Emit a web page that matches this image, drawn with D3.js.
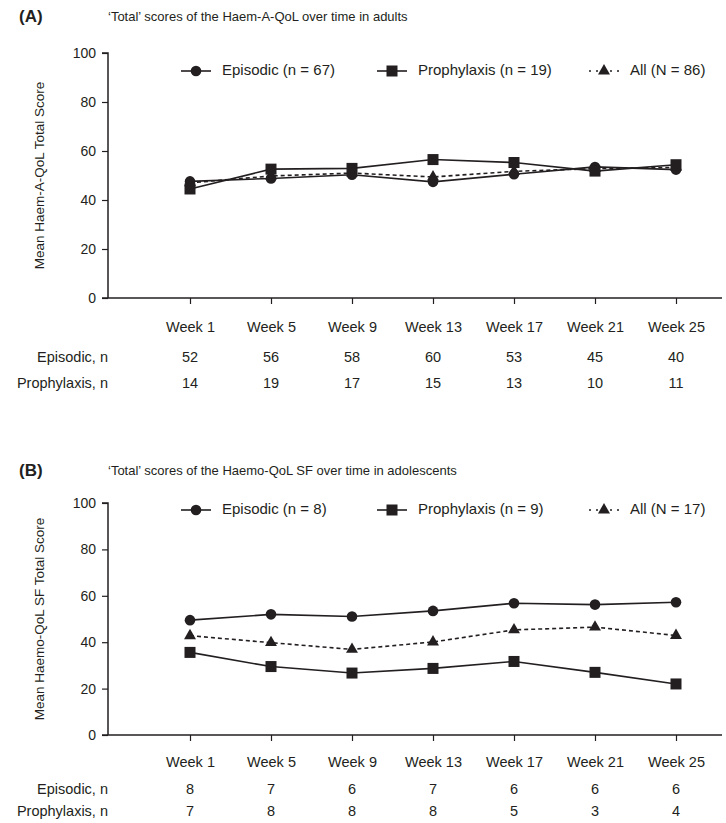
<!DOCTYPE html>
<html>
<head>
<meta charset="utf-8">
<script src="https://cdn.jsdelivr.net/npm/d3@7"></script>
<style>
  body { margin: 0; background: #fff; }
  svg { display: block; font-family: "Liberation Sans", Arial, sans-serif; }
</style>
</head>
<body>
<svg id="chart" width="726" height="823"></svg>
<script>
const weeks = ["Week 1", "Week 5", "Week 9", "Week 13", "Week 17", "Week 21", "Week 25"];
const yTicks = [0, 20, 40, 60, 80, 100];

// Panel A – adults
const adultEpisodic = [47.6, 48.8, 50.3, 47.4, 50.5, 53.5, 52.4];
const adultProphylaxis = [44.5, 52.6, 52.9, 56.5, 55.3, 51.8, 54.4];
const adultAll = [47.0, 49.8, 51.0, 49.4, 51.7, 52.8, 53.3];
const adultEpisodicN = [52, 56, 58, 60, 53, 45, 40];
const adultProphylaxisN = [14, 19, 17, 15, 13, 10, 11];

// Panel B – adolescents
const adolEpisodic = [49.5, 52.0, 51.1, 53.5, 56.8, 56.2, 57.2];
const adolProphylaxis = [35.6, 29.5, 26.7, 28.7, 31.7, 27.0, 22.0];
const adolAll = [42.8, 39.8, 36.9, 40.1, 45.3, 46.5, 42.9];
const adolEpisodicN = [8, 7, 6, 7, 6, 6, 6];
const adolProphylaxisN = [7, 8, 8, 8, 5, 3, 4];

const ink = "#231f20";
const FS = 14.5;
const svg = d3.select("#chart");

function marker(g, type, x, y) {
  if (type === "circle") {
    g.append("circle").attr("cx", x).attr("cy", y).attr("r", 5.3).attr("fill", ink);
  } else if (type === "square") {
    g.append("rect").attr("x", x - 5.5).attr("y", y - 5.5).attr("width", 11).attr("height", 11).attr("fill", ink);
  } else {
    g.append("path").attr("d", d3.symbol().type(d3.symbolTriangle).size(62)()).attr("transform", `translate(${x},${y})`).attr("fill", ink);
  }
}

function drawPanel(cfg) {
  const g = svg.append("g");
  const x = d3.scalePoint().domain(weeks).range([190, 676]);
  const y = d3.scaleLinear().domain([0, 100]).range([cfg.y0, cfg.y100]);
  const axisX = 108;

  // Panel label and title
  g.append("text").attr("x", 19).attr("y", cfg.titleY).attr("font-weight", "bold").attr("font-size", 17).attr("fill", ink)
    .attr("dominant-baseline", "middle").text(cfg.label);
  g.append("text").attr("x", 108).attr("y", cfg.titleY).attr("font-size", 13).attr("fill", ink)
    .attr("dominant-baseline", "middle").text(cfg.title);

  // y axis
  const ya = g.append("g").attr("transform", `translate(${axisX},0)`)
    .call(d3.axisLeft(y).tickValues(yTicks).tickSize(6).tickPadding(6));
  ya.select(".domain").attr("stroke", ink).attr("stroke-width", 1.5).attr("d", `M-6,${y(100)}H0V${y(0)}`);
  ya.selectAll(".tick line").attr("stroke", ink).attr("stroke-width", 1.2);
  ya.selectAll(".tick text").attr("font-size", 14).attr("fill", ink).attr("font-family", "Liberation Sans, Arial, sans-serif");

  // x axis
  const xa = g.append("g").attr("transform", `translate(0,${y(0)})`)
    .call(d3.axisBottom(x).tickSize(6).tickPadding(cfg.tickPad));
  xa.select(".domain").attr("stroke", ink).attr("stroke-width", 1.5).attr("d", `M${axisX - 6},0H722`);
  xa.selectAll(".tick line").attr("stroke", ink).attr("stroke-width", 1.2);
  xa.selectAll(".tick text").attr("font-size", FS).attr("fill", ink).attr("font-family", "Liberation Sans, Arial, sans-serif");

  // y label
  g.append("text").attr("transform", `translate(40,${(y(0) + y(100)) / 2}) rotate(-90)`)
    .attr("text-anchor", "middle").attr("dominant-baseline", "middle").attr("font-size", 13.5).attr("fill", ink).text(cfg.yLabel);

  // lines
  const line = d3.line().x((d, i) => x(weeks[i])).y(d => y(d));
  const series = [
    { vals: cfg.episodic, type: "circle", dash: null },
    { vals: cfg.prophylaxis, type: "square", dash: null },
    { vals: cfg.all, type: "triangle", dash: "4,3" }
  ];
  [series[2], series[0], series[1]].forEach(s => {
    g.append("path").datum(s.vals).attr("d", line).attr("fill", "none").attr("stroke", ink)
      .attr("stroke-width", 1.6).attr("stroke-dasharray", s.dash);
  });
  [series[2], series[0], series[1]].forEach(s => {
    s.vals.forEach((v, i) => marker(g, s.type, x(weeks[i]), y(v)));
  });

  // legend
  const ly = cfg.legendY;
  const legendItems = [
    { cx: 196, type: "circle", dash: null, text: cfg.legend[0], tx: 222 },
    { cx: 392, type: "square", dash: null, text: cfg.legend[1], tx: 418 },
    { cx: 604, type: "triangle", dash: "2,5", text: cfg.legend[2], tx: 630 }
  ];
  legendItems.forEach(it => {
    g.append("line").attr("x1", it.cx - 15).attr("x2", it.cx + 15).attr("y1", ly).attr("y2", ly)
      .attr("stroke", ink).attr("stroke-width", 1.6).attr("stroke-dasharray", it.dash);
    marker(g, it.type, it.cx, ly);
    g.append("text").attr("x", it.tx).attr("y", ly).attr("dominant-baseline", "middle").attr("font-size", 15)
      .attr("fill", ink).text(it.text);
  });

  // n rows
  const rows = [
    { label: "Episodic, n", vals: cfg.epN, yy: cfg.rowY[0] },
    { label: "Prophylaxis, n", vals: cfg.prN, yy: cfg.rowY[1] }
  ];
  rows.forEach(r => {
    g.append("text").attr("x", axisX).attr("y", r.yy).attr("text-anchor", "end").attr("dominant-baseline", "middle")
      .attr("font-size", FS).attr("fill", ink).text(r.label);
    g.selectAll(null).data(r.vals).enter().append("text")
      .attr("x", (d, i) => x(weeks[i])).attr("y", r.yy).attr("text-anchor", "middle").attr("dominant-baseline", "middle")
      .attr("font-size", FS).attr("fill", ink).text(d => d);
  });
}

drawPanel({
  label: "(A)", title: "\u2018Total\u2019 scores of the Haem-A-QoL over time in adults", titleY: 18,
  y100: 53, y0: 298, legendY: 71, rowY: [358, 384], tickPad: 18,
  yLabel: "Mean Haem-A-QoL Total Score",
  episodic: adultEpisodic, prophylaxis: adultProphylaxis, all: adultAll,
  epN: adultEpisodicN, prN: adultProphylaxisN,
  legend: ["Episodic (n = 67)", "Prophylaxis (n = 19)", "All (N = 86)"]
});

drawPanel({
  label: "(B)", title: "\u2018Total\u2019 scores of the Haemo-QoL SF over time in adolescents", titleY: 472,
  y100: 503, y0: 735, legendY: 510, rowY: [790, 812], tickPad: 16,
  yLabel: "Mean Haemo-QoL SF Total Score",
  episodic: adolEpisodic, prophylaxis: adolProphylaxis, all: adolAll,
  epN: adolEpisodicN, prN: adolProphylaxisN,
  legend: ["Episodic (n = 8)", "Prophylaxis (n = 9)", "All (N = 17)"]
});
</script>
</body>
</html>
